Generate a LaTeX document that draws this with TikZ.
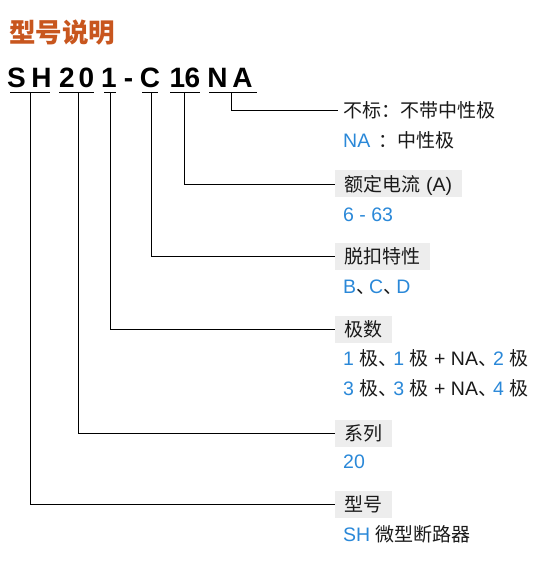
\documentclass[tikz,border=0pt]{standalone}
\usepackage{fontspec}
\setmainfont{Liberation Sans}
\newfontfamily\cjk{Noto Sans CJK SC}
\definecolor{titlec}{HTML}{C8561E}
\definecolor{bluec}{HTML}{2A88D8}
\definecolor{boxc}{HTML}{EDEDED}
\definecolor{txtc}{HTML}{1A1A1A}
\tikzset{
  codechar/.style={anchor=base, inner sep=0pt, font=\fontsize{28}{30}\selectfont\bfseries, text=black},
  lbl/.style={anchor=west, fill=boxc, inner xsep=9.5pt, inner ysep=4pt, text height=17pt, text depth=2pt, font=\fontsize{19.5}{21}\selectfont, text=txtc},
  plainlbl/.style={anchor=west, inner xsep=5pt, inner ysep=4pt, text height=17pt, text depth=2pt, font=\fontsize{19.5}{21}\selectfont, text=txtc},
  val/.style={anchor=base west, inner sep=0pt, font=\fontsize{19.5}{21}\selectfont, text=txtc},
  conn/.style={draw=black, line width=0.9pt},
  uline/.style={draw=black, line width=1pt}
}
\newcommand{\bl}[1]{\textcolor{bluec}{#1}}
\newcommand{\zh}[1]{{\cjk\fontsize{19}{21}\selectfont #1}}
\newcommand{\dun}{\zh{、}\kern-6pt}
\newcommand{\dunb}{\zh{、}\kern-4pt}
\begin{document}
\begin{tikzpicture}[x=1pt,y=-1pt]
\useasboundingbox (0,0) rectangle (547,561);
% title
\node[anchor=base west, inner sep=0pt, text=titlec, font=\fontsize{26.5}{28}\selectfont\cjk\bfseries] (title) at (9,43) {型号说明};
% code letters
\node[codechar] (c1) at (16.5,88) {S};
\node[codechar] (c2) at (41.5,88) {H};
\node[codechar] (c3) at (67,88) {2};
\node[codechar] (c4) at (86.5,88) {0};
\node[codechar] (c5) at (109,88) {1};
\node[codechar] (c6) at (128.5,88) {-};
\node[codechar] (c7) at (150,88) {C};
\node[codechar] (c8) at (177.5,88) {1};
\node[codechar] (c9) at (192.5,88) {6};
\node[codechar] (c10) at (217.5,88) {N};
\node[codechar] (c11) at (242.5,88) {A};
% underlines
\coordinate (u1l) at (10,93);  \coordinate (u1r) at (50,93);  \coordinate (u1m) at (30,93);
\coordinate (u2l) at (59,93);  \coordinate (u2r) at (94,93);  \coordinate (u2m) at (78,93);
\coordinate (u3l) at (104,93); \coordinate (u3r) at (116,93); \coordinate (u3m) at (110,93);
\coordinate (u4l) at (142,93); \coordinate (u4r) at (158,93); \coordinate (u4m) at (151,93);
\coordinate (u5l) at (170,93); \coordinate (u5r) at (200,93); \coordinate (u5m) at (184,93);
\coordinate (u6l) at (209,93); \coordinate (u6r) at (257,93); \coordinate (u6m) at (231,93);
\foreach \i in {1,...,6} {\draw[uline] (u\i l) -- (u\i r);}
% labels
\node[plainlbl] (lna) at (338,110) {\zh{不标：不带中性极}};
\node[val] (vna) at (343,148) {\bl{NA} \,\zh{：中性极}};
\node[lbl] (l16) at (335,184) {\zh{额定电流} (A)};
\node[val] (v16) at (343,221) {\bl{6 - 63}};
\node[lbl] (lc) at (335,256) {\zh{脱扣特性}};
\node[val] (vc) at (343,293) {\bl{B}\dun\bl{C}\dun\bl{D}};
\node[lbl] (l1) at (335,329) {\zh{极数}};
\node[val] (v1a) at (343,365) {\bl{1} \zh{极}\dunb\bl{1} \zh{极}\;+\;NA\dunb\bl{2} \zh{极}};
\node[val] (v1b) at (343,395) {\bl{3} \zh{极}\dunb\bl{3} \zh{极}\;+\;NA\dunb\bl{4} \zh{极}};
\node[lbl] (l20) at (335,433) {\zh{系列}};
\node[val] (v20) at (343,468) {\bl{20}};
\node[lbl] (lsh) at (335,504) {\zh{型号}};
\node[val] (vsh) at (343,541) {\bl{SH} \zh{微型断路器}};
% connectors
\draw[conn] (u6m) |- (lna.west);
\draw[conn] (u5m) |- (l16.west);
\draw[conn] (u4m) |- (lc.west);
\draw[conn] (u3m) |- (l1.west);
\draw[conn] (u2m) |- (l20.west);
\draw[conn] (u1m) |- (lsh.west);
\end{tikzpicture}
\end{document}
